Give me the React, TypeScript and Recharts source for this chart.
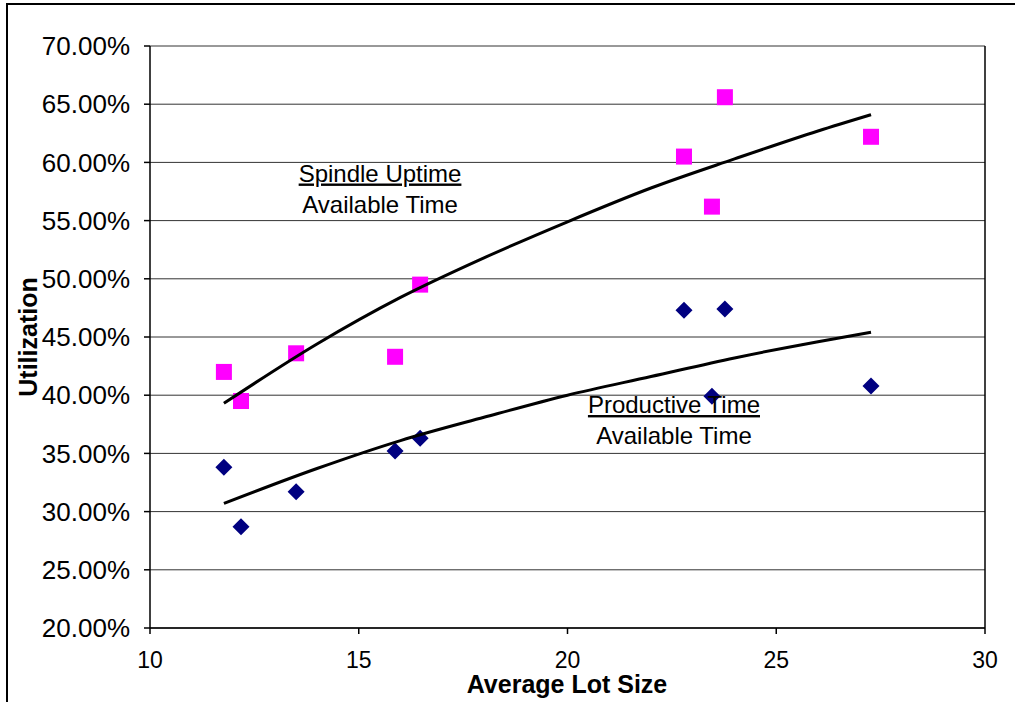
import React from 'react';
import {
  ScatterChart,
  Scatter,
  XAxis,
  YAxis,
  CartesianGrid,
  ReferenceLine,
  ReferenceDot,
  Label,
} from 'recharts';

// average lot size per machine group
const lotSizes = [11.77, 12.18, 13.5, 15.87, 16.47, 22.79, 23.46, 23.77, 27.27];
// spindle uptime / available time (%)
const spindleUptime = [42.0, 39.5, 43.6, 43.3, 49.5, 60.5, 56.2, 65.6, 62.2];
// productive time / available time (%)
const productiveTime = [33.8, 28.7, 31.7, 35.2, 36.3, 47.3, 39.9, 47.4, 40.8];

// trend lines
const trendX = [11.77, 14, 16, 18, 20, 22, 24, 26, 27.27];
const spindleTrend = [39.3, 44.4, 48.4, 51.8, 54.9, 57.8, 60.3, 62.7, 64.1];
const productiveTrend = [30.7, 33.7, 36.1, 38.1, 40.0, 41.6, 43.2, 44.6, 45.4];

const xTicks = [10, 15, 20, 25, 30];
const yTicks = [20, 25, 30, 35, 40, 45, 50, 55, 60, 65, 70];

const FONT = '"Liberation Sans", Arial, sans-serif';

const toPoints = (xs: number[], ys: number[]) => xs.map((x, i) => ({ x, y: ys[i] }));

function Square(props: any) {
  const { cx, cy } = props;
  return <rect x={cx - 8} y={cy - 8} width={16} height={16} fill="#FF00FF" />;
}

function Diamond(props: any) {
  const { cx, cy } = props;
  const r = 8.5;
  return (
    <polygon
      points={`${cx},${cy - r} ${cx + r},${cy} ${cx},${cy + r} ${cx - r},${cy}`}
      fill="#000080"
    />
  );
}

function Note({ cx, cy, top, bottom }: { cx: number; cy: number; top: string; bottom: string }) {
  return (
    <g fontFamily={FONT} fontSize={24} fill="#000">
      <text x={cx} y={cy - 15} textAnchor="middle" style={{ textDecoration: 'underline' }}>
        {top}
      </text>
      <text x={cx} y={cy + 16} textAnchor="middle">
        {bottom}
      </text>
    </g>
  );
}

export default function App() {
  return (
    <div
      style={{
        position: 'absolute',
        left: 0,
        top: 0,
        width: 1015,
        height: 702,
        background: '#fff',
        overflow: 'hidden',
      }}
    >
      <div
        style={{
          position: 'absolute',
          left: 6,
          top: 3,
          width: 1100,
          height: 800,
          borderLeft: '2px solid #000',
          borderTop: '2px solid #000',
        }}
      />
      <div style={{ position: 'absolute', left: 0, top: 0 }}>
        <ScatterChart width={1015} height={702} margin={{ top: 46, right: 30, left: 7, bottom: 14 }}>
          <CartesianGrid horizontal vertical={false} stroke="#333" strokeWidth={1} />
          <XAxis
            type="number"
            dataKey="x"
            domain={[10, 30]}
            ticks={xTicks}
            height={60}
            tickSize={6}
            tickMargin={18}
            stroke="#000"
            strokeWidth={1.5}
            tick={{ fill: '#000', fontSize: 23, fontFamily: FONT }}
          >
            <Label
              content={() => (
                <text
                  x={567}
                  y={684}
                  textAnchor="middle"
                  dominantBaseline="central"
                  fontFamily={FONT}
                  fontWeight="bold"
                  fontSize={25}
                  fill="#000"
                >
                  Average Lot Size
                </text>
              )}
            />
          </XAxis>
          <YAxis
            type="number"
            dataKey="y"
            domain={[20, 70]}
            ticks={yTicks}
            width={143}
            tickSize={6}
            tickMargin={14}
            stroke="#000"
            strokeWidth={1.5}
            tickFormatter={(v: number) => `${v.toFixed(2)}%`}
            tick={{ fill: '#000', fontSize: 26, fontFamily: FONT }}
          >
            <Label
              content={() => (
                <text
                  x={28}
                  y={337}
                  transform="rotate(-90 28 337)"
                  textAnchor="middle"
                  dominantBaseline="central"
                  fontFamily={FONT}
                  fontWeight="bold"
                  fontSize={25}
                  fill="#000"
                >
                  Utilization
                </text>
              )}
            />
          </YAxis>
          <ReferenceLine x={30} stroke="#000" strokeWidth={1.5} />
          <Scatter
            data={toPoints(lotSizes, spindleUptime)}
            shape={Square}
            isAnimationActive={false}
          />
          <Scatter
            data={toPoints(lotSizes, productiveTime)}
            shape={Diamond}
            isAnimationActive={false}
          />
          <Scatter
            data={toPoints(trendX, spindleTrend)}
            line={{ stroke: '#000', strokeWidth: 3 }}
            lineJointType="monotoneX"
            shape={() => <g />}
            isAnimationActive={false}
          />
          <Scatter
            data={toPoints(trendX, productiveTrend)}
            line={{ stroke: '#000', strokeWidth: 3 }}
            lineJointType="monotoneX"
            shape={() => <g />}
            isAnimationActive={false}
          />
          <ReferenceDot
            x={15.51}
            y={57.07}
            r={0}
            shape={(p: any) => <Note cx={p.cx} cy={p.cy} top="Spindle Uptime" bottom="Available Time" />}
          />
          <ReferenceDot
            x={22.55}
            y={37.18}
            r={0}
            shape={(p: any) => <Note cx={p.cx} cy={p.cy} top="Productive Time" bottom="Available Time" />}
          />
        </ScatterChart>
      </div>
    </div>
  );
}
